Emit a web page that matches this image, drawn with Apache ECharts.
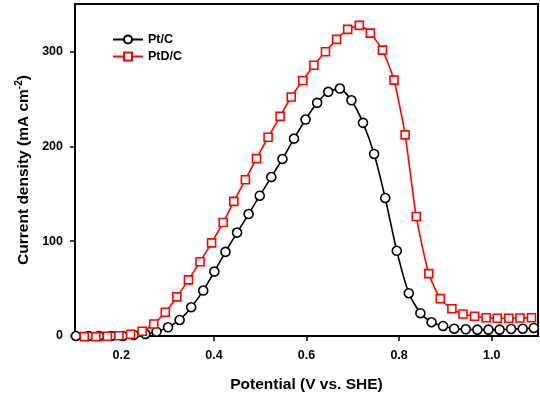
<!DOCTYPE html>
<html>
<head>
<meta charset="utf-8">
<script src="https://cdn.jsdelivr.net/npm/echarts@6/dist/echarts.min.js"></script>
<style>
html,body{margin:0;padding:0;background:#fff;}
#chart{width:540px;height:398px;}
</style>
</head>
<body>
<div id="chart"></div>
<script>
// Pt/C (black circles)
var ptcPotential = [0.102,0.129,0.152,0.178,0.203,0.227,0.252,0.276,0.301,0.326,0.351,0.377,0.401,0.425,0.450,0.475,0.499,0.524,0.548,0.573,0.598,0.623,0.647,0.672,0.697,0.722,0.746,0.770,0.795,0.821,0.846,0.870,0.895,0.919,0.944,0.969,0.993,1.017,1.042,1.067,1.091];
var ptcCurrent = [0,0,0,0,0,1.1,2.1,4.5,9.2,16.9,30.3,47.9,67.9,88.7,109,128.6,147.9,167.6,186.6,208.1,228.2,245.8,257.4,260.9,248.5,224.7,191.9,145.5,89.8,45.1,24,14.5,10.6,7.7,7.1,6.7,6.7,6.7,7.4,7.7,8.5];
// PtD/C (red squares)
var ptdPotential = [0.120,0.145,0.170,0.195,0.220,0.245,0.270,0.295,0.320,0.345,0.370,0.395,0.420,0.443,0.468,0.492,0.517,0.543,0.567,0.592,0.616,0.641,0.665,0.689,0.714,0.738,0.764,0.789,0.813,0.837,0.864,0.889,0.914,0.938,0.963,0.988,1.012,1.037,1.061,1.086];
var ptdCurrent = [-0.7,-0.7,-0.3,0.3,1.8,5,12.7,25,41.2,59.2,78.2,98.2,119.7,141.9,164.8,187,209.5,231.5,252,269.4,285.5,299.7,312.7,323.2,327.5,319.3,301.4,269.7,212,126,65.8,39.4,28.8,23.2,20.8,19.3,18.7,18.7,19,19.3];
var seriesNames = ['Pt/C','PtD/C'];
var xTicks = [0.2,0.4,0.6,0.8,1.0];
var yTicks = [0,100,200,300];

function pairs(xs, ys){ return xs.map(function(x,i){ return [x, ys[i]]; }); }

var FONT = 'Arial, "Liberation Sans", sans-serif';
var chart = echarts.init(document.getElementById('chart'), null, {renderer:'canvas'});
chart.setOption({
  animation:false,
  backgroundColor:'#fff',
  grid:{left:75,right:2,top:4,bottom:62,show:true,borderColor:'#000',borderWidth:2,backgroundColor:'transparent'},
  legend:{
    orient:'vertical', left:112, top:33, padding:0, itemWidth:30, itemHeight:10, itemGap:4,
    textStyle:{fontFamily:FONT,fontWeight:'bold',fontSize:12.5,color:'#000'},
    data:seriesNames
  },
  xAxis:{
    type:'value', min:0.1, max:1.1,
    axisLine:{show:true,lineStyle:{color:'#000',width:2}},
    axisTick:{show:true,inside:false,length:5,lineStyle:{color:'#000',width:1.5},customValues:xTicks},
    axisLabel:{fontFamily:FONT,fontWeight:'bold',fontSize:12.5,color:'#000',margin:13,customValues:xTicks,
      formatter:function(v){return v.toFixed(1);}},
    splitLine:{show:false},
    name:'Potential (V vs. SHE)', nameLocation:'middle', nameGap:41,
    nameTextStyle:{fontFamily:FONT,fontWeight:'bold',fontSize:15.5,color:'#000'}
  },
  yAxis:{
    type:'value', min:0, max:350,
    axisLine:{show:true,lineStyle:{color:'#000',width:2}},
    axisTick:{show:true,inside:false,length:5,lineStyle:{color:'#000',width:1.5},customValues:yTicks},
    axisLabel:{fontFamily:FONT,fontWeight:'bold',fontSize:12.5,color:'#000',margin:12,customValues:yTicks},
    splitLine:{show:false},
    name:'Current density (mA cm{sup|-2})', nameLocation:'middle', nameGap:41,
    nameTextStyle:{fontFamily:FONT,fontWeight:'bold',fontSize:15.5,color:'#000',
      rich:{sup:{fontFamily:FONT,fontWeight:'bold',fontSize:10,color:'#000',verticalAlign:'top',padding:[0,0,8,0]}}}
  },
  series:[
    {name:seriesNames[0], type:'line', data:pairs(ptcPotential,ptcCurrent), smooth:0.2, clip:false,
     symbol:'circle', symbolSize:9, showAllSymbol:true,
     lineStyle:{color:'#000',width:1.6}, itemStyle:{color:'#fff',borderColor:'#000',borderWidth:1.6}, color:'#000'},
    {name:seriesNames[1], type:'line', data:pairs(ptdPotential,ptdCurrent), smooth:0.2, clip:false,
     symbol:'rect', symbolSize:8, showAllSymbol:true,
     lineStyle:{color:'#ff0000',width:1.6}, itemStyle:{color:'#fff',borderColor:'#ff0000',borderWidth:1.6}, color:'#ff0000'}
  ]
});
</script>
</body>
</html>
